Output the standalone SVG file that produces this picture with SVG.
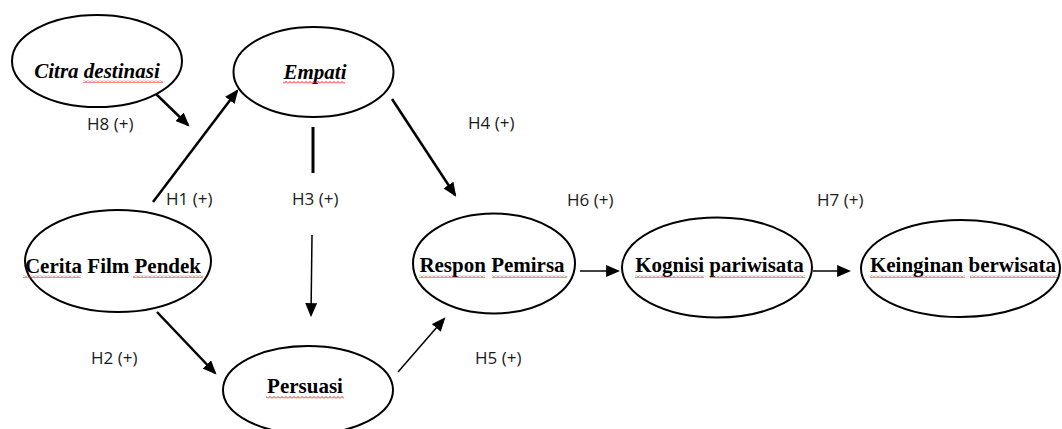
<svg xmlns="http://www.w3.org/2000/svg" width="1062" height="429" viewBox="0 0 1062 429">
<style>
.node ellipse{fill:#fff;stroke:#000;stroke-width:2}
.lbl{font-family:"Liberation Serif","Times New Roman",serif;font-weight:bold;font-size:21px;fill:#000;text-anchor:middle}
.it{font-style:italic}
.h{font-family:"Open Sans","Liberation Sans",sans-serif;font-size:17px;fill:#1a1a1a}
.c line{stroke:#000;fill:none}
.thick{stroke-width:2.5}
.thin{stroke-width:1.5}
.sq{fill:url(#sq)}
</style>
<defs>
<marker id="ah" markerUnits="userSpaceOnUse" markerWidth="14" markerHeight="12" viewBox="0 0 13 11" refX="11" refY="5.5" orient="auto">
<path d="M0,0 L13,5.5 L0,11 Z" fill="#000"/>
</marker>
<pattern id="sq" patternUnits="userSpaceOnUse" width="4" height="3">
<path d="M0,2.5 L2,0.5 L4,2.5" fill="none" stroke="#ff1010" stroke-width="1"/>
</pattern>
</defs>
<rect width="1062" height="429" fill="#fff"/>
<g id="connectors" class="c">
<line class="thick" x1="155" y1="93" x2="188" y2="125" marker-end="url(#ah)"/>
<line class="thick" x1="153" y1="202" x2="237" y2="91" marker-end="url(#ah)"/>
<line x1="313" y1="127" x2="313" y2="173" stroke-width="3"/>
<line class="thin" x1="312" y1="235" x2="311" y2="315" marker-end="url(#ah)"/>
<line class="thick" x1="392" y1="99" x2="455" y2="195" marker-end="url(#ah)"/>
<line class="thick" x1="157" y1="312" x2="215" y2="373" marker-end="url(#ah)"/>
<line class="thin" x1="398" y1="372" x2="444" y2="319" marker-end="url(#ah)"/>
<line class="thin" x1="580" y1="271" x2="618" y2="271" marker-end="url(#ah)"/>
<line class="thin" x1="813" y1="271" x2="849" y2="271" marker-end="url(#ah)"/>
</g>
<g id="labels">
<text class="h" x="87" y="130">H8 (+)</text>
<text class="h" x="166" y="205">H1 (+)</text>
<text class="h" x="292" y="205">H3 (+)</text>
<text class="h" x="468" y="129">H4 (+)</text>
<text class="h" x="567" y="206">H6 (+)</text>
<text class="h" x="817" y="206">H7 (+)</text>
<text class="h" x="91" y="364">H2 (+)</text>
<text class="h" x="475" y="364">H5 (+)</text>
</g>
<g id="citra" class="node">
<ellipse cx="97" cy="61" rx="85" ry="46"/>
<text class="lbl it" x="97" y="78">Citra destinasi</text>
<rect class="sq" x="83" y="80" width="80" height="3"/>
</g>
<g id="empati" class="node">
<ellipse cx="313.5" cy="72" rx="80" ry="45"/>
<text class="lbl it" x="315" y="79">Empati</text>
<rect class="sq" x="283" y="81" width="62" height="3"/>
</g>
<g id="cerita" class="node">
<ellipse cx="118" cy="261" rx="93" ry="51"/>
<text class="lbl" x="113" y="273">Cerita Film Pendek</text>
<rect class="sq" x="23" y="275" width="58" height="3"/>
<rect class="sq" x="133" y="275" width="70" height="3"/>
</g>
<g id="persuasi" class="node">
<ellipse cx="308" cy="390" rx="85" ry="44"/>
<text class="lbl" x="305" y="393">Persuasi</text>
<rect class="sq" x="266" y="396" width="78" height="3"/>
</g>
<g id="respon" class="node">
<ellipse cx="494" cy="263.5" rx="81" ry="50"/>
<text class="lbl" x="492" y="272">Respon Pemirsa</text>
<rect class="sq" x="419" y="275" width="66" height="3"/>
<rect class="sq" x="492" y="275" width="75" height="3"/>
</g>
<g id="kognisi" class="node">
<ellipse cx="717" cy="267.5" rx="95" ry="50"/>
<text class="lbl" x="719.5" y="272">Kognisi pariwisata</text>
<rect class="sq" x="635" y="275" width="69" height="3"/>
<rect class="sq" x="710" y="275" width="95" height="3"/>
</g>
<g id="keinginan" class="node">
<ellipse cx="960.5" cy="268.5" rx="99.5" ry="48.5"/>
<text class="lbl" x="963" y="272">Keinginan berwisata</text>
<rect class="sq" x="870" y="275" width="95" height="3"/>
<rect class="sq" x="970" y="275" width="87" height="3"/>
</g>
</svg>
